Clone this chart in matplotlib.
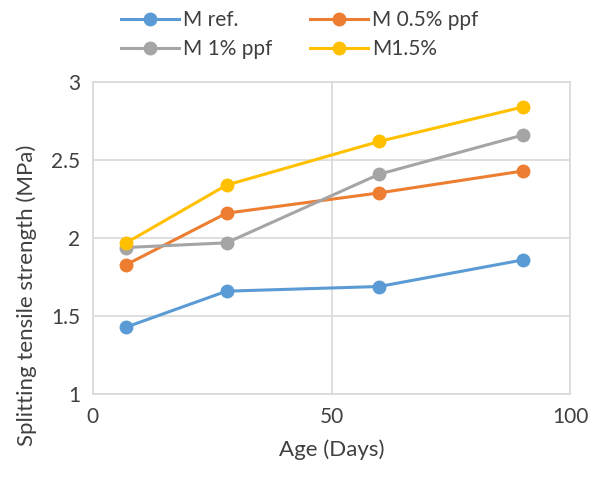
import matplotlib
matplotlib.use("Agg")
import matplotlib.pyplot as plt

plt.rcParams['font.family'] = ['Lato', 'DejaVu Sans']

# ages in days
age = [7, 28, 60, 90]

m_ref = [1.43, 1.66, 1.69, 1.86]
m_05 = [1.83, 2.16, 2.29, 2.43]
m_1 = [1.94, 1.97, 2.41, 2.66]
m_15 = [1.97, 2.34, 2.62, 2.84]

labels = ["M ref.", "M 0.5% ppf", "M 1% ppf", "M1.5%"]
colors = ["#5B9BD5", "#ED7D31", "#A5A5A5", "#FFC000"]

GRID = "#D9D9D9"
TEXT = "#404040"

fig = plt.figure(figsize=(5.99, 4.86), dpi=100)
ax = fig.add_axes([0.155, 0.189, 0.797, 0.642])

handles = []
for series, label, color in zip((m_ref, m_05, m_1, m_15), labels, colors):
    h, = ax.plot(age, series, color=color, lw=2.2, marker='o', markersize=9,
                 label=label)
    handles.append(h)

ax.set_xlim(0, 100)
ax.set_ylim(1, 3)
ax.set_xticks([0, 50, 100])
ax.set_yticks([1, 1.5, 2, 2.5, 3])
ax.set_yticklabels(["1", "1.5", "2", "2.5", "3"])
ax.grid(True, color=GRID, lw=1.2)
ax.set_axisbelow(True)
for s in ax.spines.values():
    s.set_color(GRID)
    s.set_linewidth(1.2)
ax.tick_params(length=0, labelsize=15, labelcolor=TEXT, pad=9)

ax.set_xlabel("Age (Days)", fontsize=16, color=TEXT, labelpad=9)
fig.text(27 / 599, 1 - 295 / 486, "Splitting tensile strength (MPa)",
         rotation=90, ha='center', va='center', fontsize=16, color=TEXT)

# legend fills column-wise, so reorder to get Excel's row layout
order = [0, 2, 1, 3]
fig.legend(handles=[handles[i] for i in order], loc='upper center',
           bbox_to_anchor=(0.5, 1.018), ncol=2, frameon=False, fontsize=15,
           handlelength=2.8, handletextpad=0.2, columnspacing=1.8,
           labelspacing=0.45, labelcolor=TEXT)

fig.savefig("out.png", dpi=100)
